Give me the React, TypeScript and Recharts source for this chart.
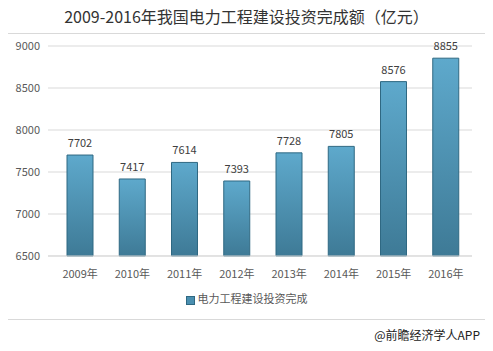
import { BarChart, Bar, XAxis, YAxis, CartesianGrid, LabelList } from "recharts";

// 2009-2016 电力工程建设投资完成额（亿元）
const years = ["2009年", "2010年", "2011年", "2012年", "2013年", "2014年", "2015年", "2016年"];
const invest = [7702, 7417, 7614, 7393, 7728, 7805, 8576, 8855];
const yTicks = [6500, 7000, 7500, 8000, 8500, 9000];

const data = years.map((year, i) => ({ year, value: invest[i] }));

const font = '"Noto Sans CJK SC", "Microsoft YaHei", sans-serif';

export default function App() {
  return (
    <div style={{ width: 493, height: 351, margin: -8, background: "#fff", fontFamily: font, overflow: "hidden" }}>
      <div style={{ height: 33, paddingTop: 4, boxSizing: "border-box", textAlign: "center", fontSize: 16, color: "#333" }}>
        2009-2016年我国电力工程建设投资完成额（亿元）
      </div>
      <div style={{ marginLeft: 7, width: 481, height: 287, border: "1px solid #d9d9d9", boxSizing: "border-box" }}>
        <BarChart width={479} height={285} data={data} margin={{ top: 12, right: 15, bottom: 37, left: 0 }}>
          <defs>
            <linearGradient id="barGrad" x1="0" y1="0" x2="0" y2="1">
              <stop offset="0%" stopColor="#5ea9cc" />
              <stop offset="100%" stopColor="#3e7a96" />
            </linearGradient>
          </defs>
          <CartesianGrid vertical={false} stroke="#d9d9d9" />
          <XAxis
            dataKey="year"
            height={26}
            padding={{ left: 6, right: 0 }}
            axisLine={{ stroke: "#d9d9d9" }}
            tickLine={false}
            interval={0}
            tick={{ fontSize: 11, fill: "#595959", fontFamily: font }}
            tickMargin={8}
          />
          <YAxis
            domain={[6500, 9000]}
            ticks={yTicks}
            width={40}
            axisLine={false}
            tickLine={false}
            tick={{ fontSize: 11, fill: "#595959", fontFamily: font }}
          />
          <Bar dataKey="value" barSize={26} fill="url(#barGrad)" stroke="#2f6882" strokeWidth={1} isAnimationActive={false}>
            <LabelList dataKey="value" position="top" offset={8} style={{ fontSize: 11, fill: "#404040", fontFamily: font }} />
          </Bar>
        </BarChart>
      </div>
      <div style={{ marginTop: -30, height: 20, textAlign: "center", fontSize: 11, color: "#595959" }}>
        <span style={{ display: "inline-block", width: 7, height: 7, background: "#4a8fb0", border: "1px solid #2f6882", marginRight: 3, verticalAlign: "middle" }} />
        电力工程建设投资完成
      </div>
      <div style={{ marginTop: 16, width: 480, textAlign: "right", fontSize: 12, color: "#222", whiteSpace: "nowrap" }}>
        @前瞻经济学人APP
      </div>
    </div>
  );
}
